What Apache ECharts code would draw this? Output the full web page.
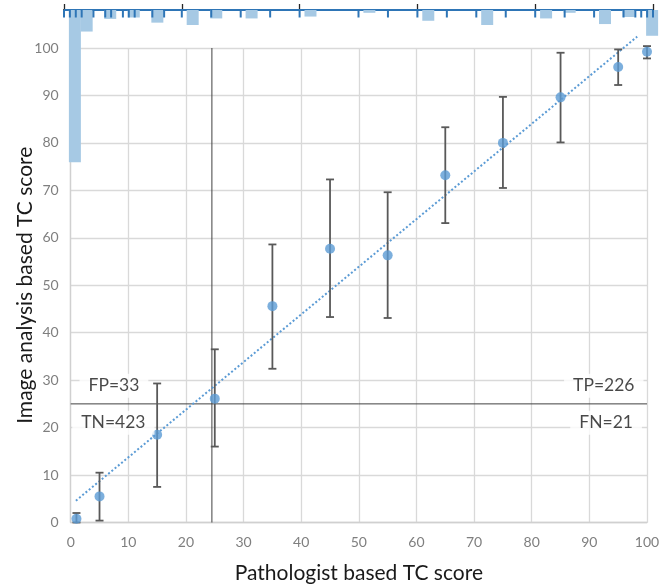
<!DOCTYPE html>
<html>
<head>
<meta charset="utf-8">
<script src="https://cdn.jsdelivr.net/npm/echarts@6/dist/echarts.min.js"></script>
<style>
  html, body { margin: 0; padding: 0; background: #fff; }
  #chart { width: 663px; height: 588px; }
</style>
</head>
<body>
<div id="chart"></div>
<script>
// mean image analysis score per pathologist score group, with error bar ends
var groupX = [1, 5, 15, 25, 35, 45, 55, 65, 75, 85, 95, 100]
var groupMean = [0.8, 5.5, 18.5, 26.1, 45.6, 57.7, 56.3, 73.2, 80.0, 89.6, 96.0, 99.2]
var groupLow = [0, 0.4, 7.5, 16.0, 32.4, 43.3, 43.1, 63.1, 70.5, 80.1, 92.2, 97.8]
var groupHigh = [2.0, 10.5, 29.3, 36.5, 58.6, 72.3, 69.6, 83.3, 89.7, 99.0, 99.7, 100.4]

// linear trend line end points
var trendX = [0.9, 98.3]
var trendY = [4.6, 102.4]

// cut-off lines
var cutX = 24.5
var cutY = 25

// quadrant counts
var noteText = ['FP=33', 'TN=423', 'TP=226', 'FN=21']
var noteX = [7.5, 7.4, 92.5, 92.9]
var noteY = [28.8, 21.0, 28.8, 21.0]

// histogram of pathologist scores (top), bins of width 2
var binCenter = [1, 3, 7, 11, 15, 21, 25, 31, 41, 51, 61, 71, 81, 85, 91, 95, 99]
var binCount = [325, 46, 19, 16, 27, 32, 18, 18, 14, 6, 23, 32, 18, 6, 30, 15, 55]

// rug marks of distinct pathologist scores
var rugX = [0, 1, 2, 3, 5, 7, 8, 10, 11, 12, 15, 17, 20, 25, 30, 35, 40, 50, 55, 60, 65, 70, 75, 80, 85, 90, 95, 97, 98, 99, 100]
var rugLen = 16

var ticks = [0, 10, 20, 30, 40, 50, 60, 70, 80, 90, 100]

function initChart() {
  let chart = echarts.init(document.getElementById('chart'))

  var font = 'Lato'
  var pts = groupX.map(function (x, i) { return [x, groupMean[i]] })
  var bars = groupX.map(function (x, i) { return [x, groupLow[i], groupHigh[i]] })
  var notes = noteText.map(function (t, i) { return { value: [noteX[i], noteY[i]], name: t } })

  var option = {
    animation: false,
    textStyle: { fontFamily: font },
    grid: [
      { left: 70.7, right: 16, top: 48, bottom: 65.5, containLabel: false, outerBoundsMode: 'none' },
      { left: 64, right: 10, top: 10, height: 164, containLabel: false, outerBoundsMode: 'none' },
    ],
    xAxis: [
      {
        type: 'value',
        gridIndex: 0,
        min: ticks[0],
        max: ticks[ticks.length - 1],
        interval: 10,
        name: 'Pathologist based TC score',
        nameLocation: 'middle',
        nameGap: 40,
        nameMoveOverlap: false,
        nameTextStyle: { fontSize: 21, color: '#1a1a1a', fontFamily: font },
        axisLine: { show: true, lineStyle: { color: '#d0d0d0', width: 1.3 } },
        axisTick: { show: false },
        axisLabel: { color: '#7f7f7f', fontSize: 14, margin: 13 },
        splitLine: { show: true, lineStyle: { color: '#d9d9d9', width: 1.3 } },
      },
      {
        type: 'value',
        gridIndex: 1,
        position: 'top',
        min: 0,
        max: 100,
        interval: 20,
        offset: 1,
        axisLine: { show: true, lineStyle: { color: '#262626', width: 2 } },
        axisTick: { show: true, length: 6, lineStyle: { color: '#262626', width: 1.3 } },
        axisLabel: { show: false },
        splitLine: { show: false },
      },
    ],
    yAxis: [
      {
        type: 'value',
        gridIndex: 0,
        min: ticks[0],
        max: ticks[ticks.length - 1],
        interval: 10,
        name: 'Image analysis based TC score',
        nameLocation: 'middle',
        nameGap: 35,
        nameMoveOverlap: false,
        nameTextStyle: { fontSize: 21, color: '#1a1a1a', fontFamily: font },
        axisLine: { show: true, lineStyle: { color: '#d0d0d0', width: 1.3 } },
        axisTick: { show: false },
        axisLabel: { color: '#7f7f7f', fontSize: 14, margin: 12 },
        splitLine: { show: true, lineStyle: { color: '#d9d9d9', width: 1.3 } },
      },
      {
        type: 'value',
        gridIndex: 1,
        inverse: true,
        min: 0,
        max: 350,
        show: false,
      },
    ],
    series: [
      {
        name: 'cutX',
        type: 'line',
        data: [[cutX, 0], [cutX, 100]],
        symbol: 'none',
        lineStyle: { color: '#404040', width: 1 },
        z: 3,
      },
      {
        name: 'cutY',
        type: 'line',
        data: [[0, cutY], [100, cutY]],
        symbol: 'none',
        lineStyle: { color: '#404040', width: 1 },
        z: 3,
      },
      {
        name: 'trend',
        type: 'line',
        data: trendX.map(function (x, i) { return [x, trendY[i]] }),
        symbol: 'none',
        clip: false,
        lineStyle: { color: '#5b9bd5', width: 2, type: [2, 2.2] },
        z: 4,
      },
      {
        name: 'error',
        type: 'custom',
        data: bars,
        z: 5,
        renderItem: function (params, api) {
          var x = api.value(0)
          var lo = api.coord([x, api.value(1)])
          var hi = api.coord([x, api.value(2)])
          var w = 4
          var style = { stroke: '#595959', lineWidth: 1.8 }
          return {
            type: 'group',
            children: [
              { type: 'line', shape: { x1: lo[0], y1: lo[1], x2: hi[0], y2: hi[1] }, style: style },
              { type: 'line', shape: { x1: hi[0] - w, y1: hi[1], x2: hi[0] + w, y2: hi[1] }, style: style },
              { type: 'line', shape: { x1: lo[0] - w, y1: lo[1], x2: lo[0] + w, y2: lo[1] }, style: style },
            ],
          }
        },
      },
      {
        name: 'mean',
        type: 'scatter',
        data: pts,
        symbolSize: 10,
        itemStyle: { color: '#5b9bd5' },
        z: 6,
      },
      {
        name: 'notes',
        type: 'scatter',
        data: notes,
        symbolSize: 0,
        z: 7,
        label: {
          show: true,
          position: 'inside',
          formatter: '{b}',
          color: '#1a1a1a',
          fontSize: 17.5,
          fontFamily: font,
          backgroundColor: '#fff',
          padding: [3, 9],
        },
      },
      {
        name: 'hist',
        type: 'bar',
        xAxisIndex: 1,
        yAxisIndex: 1,
        data: binCenter.map(function (x, i) { return [x, binCount[i]] }),
        barWidth: 12,
        clip: false,
        itemStyle: { color: '#a6c9e4' },
        z: 8,
        markLine: {
          symbol: 'none',
          silent: true,
          label: { show: false },
          lineStyle: { color: '#2e75b6', width: 2, type: 'solid' },
          data: [{ yAxis: 0 }],
        },
      },
      {
        name: 'rug',
        type: 'bar',
        xAxisIndex: 1,
        yAxisIndex: 1,
        data: rugX.map(function (x) { return [x, rugLen] }),
        barWidth: 2,
        barGap: '-100%',
        clip: false,
        itemStyle: { color: '#2e75b6' },
        z: 9,
      },
    ],
  }
  chart.setOption(option)

  window.addEventListener('resize', function () {
    chart.resize()
  })
}

initChart()
</script>
</body>
</html>
